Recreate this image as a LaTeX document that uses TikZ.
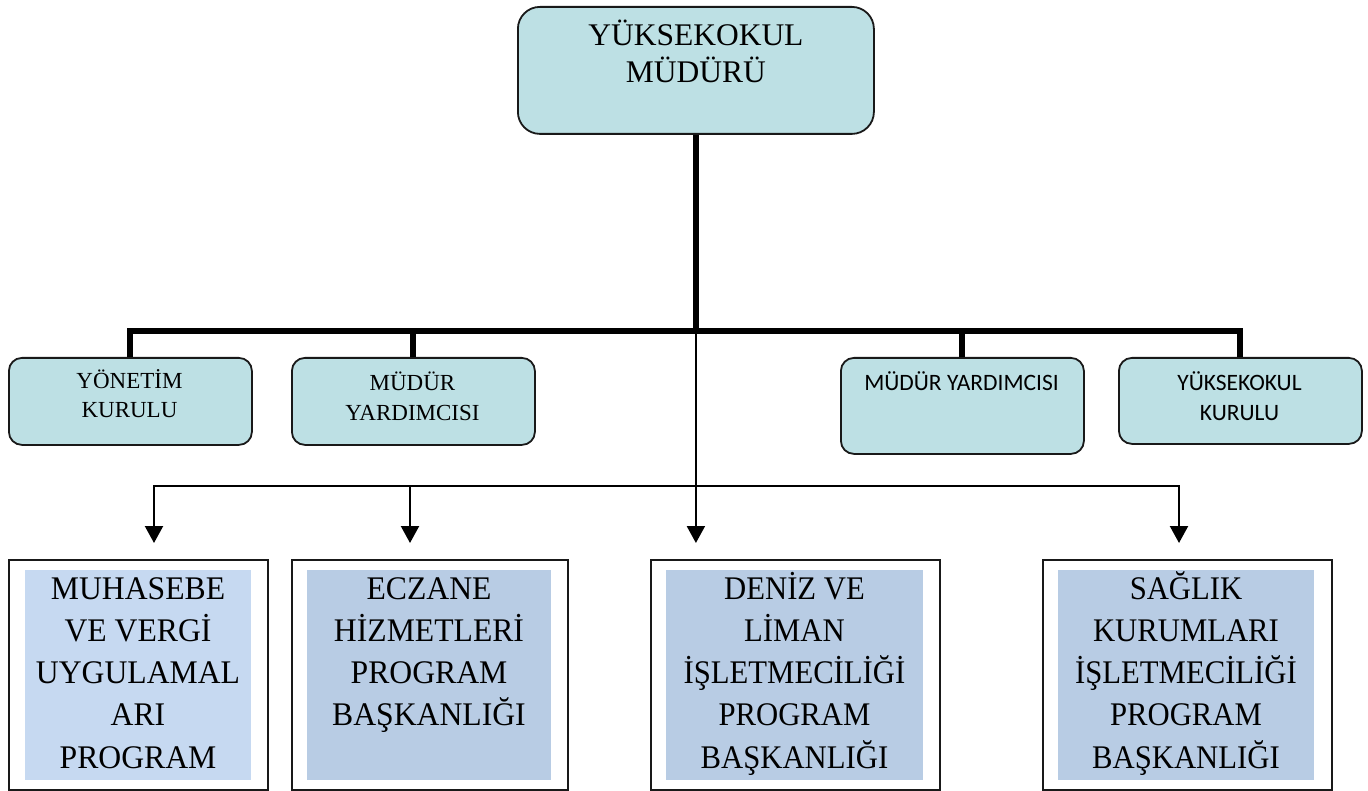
\documentclass[tikz,border=0pt]{standalone}
\usepackage{fontspec}
\setmainfont{Liberation Serif}
\newfontfamily\sansf{Carlito}
\newfontfamily\condA[FakeStretch=0.96]{Liberation Serif}
\newfontfamily\condB[FakeStretch=0.93]{Liberation Serif}
\usetikzlibrary{arrows.meta}
\definecolor{boxteal}{RGB}{189,224,228}
\definecolor{innerA}{RGB}{198,217,241}
\definecolor{innerB}{RGB}{184,204,228}
\definecolor{edge}{RGB}{25,25,25}
\tikzset{
  rbox/.style={draw=edge, line width=1.8pt, fill=boxteal, rounded corners=13pt, inner sep=0pt, anchor=north west},
  obox/.style={draw=edge, line width=1.7pt, fill=white, inner sep=0pt, anchor=north west},
  ibox/.style={draw=none, inner sep=0pt, anchor=north west},
  txt/.style={anchor=north, align=center, inner sep=0pt},
  thickline/.style={line width=6pt, line join=miter},
  arr/.style={line width=2.2pt, -{Triangle[width=18pt,length=17pt]}},
}
\begin{document}
\begin{tikzpicture}[x=1pt,y=-1pt]
\useasboundingbox (0,0) rectangle (1368,791);

% top box
\node[rbox, rounded corners=22pt, minimum width=356pt, minimum height=127pt] (top) at (517,6) {};
\node[txt, font=\fontsize{31.5}{37}\selectfont] (toptxt) at (top.north |- 0,17) {\rule{0pt}{28pt}YÜKSEKOKUL\\MÜDÜRÜ};

% middle boxes
\node[rbox, minimum width=243pt, minimum height=87pt] (m1) at (8,357) {};
\node[rbox, minimum width=243pt, minimum height=87pt] (m2) at (291,357) {};
\node[rbox, minimum width=243pt, minimum height=96pt] (m3) at (840,357) {};
\node[rbox, minimum width=243pt, minimum height=86pt] (m4) at (1118,357) {};

\node[txt, font=\fontsize{23}{29}\selectfont] (m1t) at (129.5,368) {\rule{0pt}{20pt}YÖNETİM\\KURULU};
\node[txt, font=\fontsize{23}{30.5}\selectfont] (m2t) at (412.5,370) {\rule{0pt}{20pt}MÜDÜR\\YARDIMCISI};
\node[txt, font=\sansf\fontsize{23.5}{30}\selectfont] (m3t) at (961.5,370) {\rule{0pt}{20pt}MÜDÜR YARDIMCISI};
\node[txt, font=\sansf\fontsize{23.5}{30}\selectfont] (m4t) at (1239.5,370) {\rule{0pt}{20pt}YÜKSEKOKUL\\KURULU};

% thick connectors
\coordinate (hub) at (top.south |- 0,331);
\draw[thickline] (top.south) -- (hub);
\draw[thickline] (m1.north) |- (hub) -| (m4.north);
\draw[thickline] (m2.north) -- (m2.north |- hub);
\draw[thickline] (m3.north) -- (m3.north |- hub);

% bottom boxes
\node[obox, minimum width=259pt, minimum height=230pt] (p1) at (8,559) {};
\node[obox, minimum width=276pt, minimum height=230pt] (p2) at (291,559) {};
\node[obox, minimum width=289pt, minimum height=230pt] (p3) at (650,559) {};
\node[obox, minimum width=289pt, minimum height=230pt] (p4) at (1042,559) {};
\node[ibox, fill=innerA, minimum width=226pt, minimum height=210pt] (q1) at (25,570) {};
\node[ibox, fill=innerB, minimum width=244pt, minimum height=210pt] (q2) at (307,570) {};
\node[ibox, fill=innerB, minimum width=257pt, minimum height=210pt] (q3) at (666,570) {};
\node[ibox, fill=innerB, minimum width=256pt, minimum height=210pt] (q4) at (1058,570) {};

\node[txt, font=\condA\fontsize{33}{42.25}\selectfont] (q1t) at (138,569) {\rule{0pt}{30pt}MUHASEBE\\VE VERGİ\\UYGULAMAL\\ARI\\PROGRAM};
\node[txt, font=\condA\fontsize{33}{42.25}\selectfont] (q2t) at (429,569) {\rule{0pt}{30pt}ECZANE\\HİZMETLERİ\\PROGRAM\\BAŞKANLIĞI};
\node[txt, font=\condB\fontsize{33}{42.25}\selectfont] (q3t) at (794.5,569) {\rule{0pt}{30pt}DENİZ VE\\LİMAN\\İŞLETMECİLİĞİ\\PROGRAM\\BAŞKANLIĞI};
\node[txt, font=\condB\fontsize{33}{42.25}\selectfont] (q4t) at (1186,569) {\rule{0pt}{30pt}SAĞLIK\\KURUMLARI\\İŞLETMECİLİĞİ\\PROGRAM\\BAŞKANLIĞI};

% thin arrows
\coordinate (a1) at (154,543);
\coordinate (a2) at (410,543);
\coordinate (a3) at (hub |- 0,543);
\coordinate (a4) at (1179,543);
\coordinate (c2) at (410,486);
\draw[arr] (hub) -- (a3);
\draw[arr] (c2) -| (a1);
\draw[arr] (c2) -| (a4);
\draw[arr] (c2) -- (a2);
\end{tikzpicture}
\end{document}
